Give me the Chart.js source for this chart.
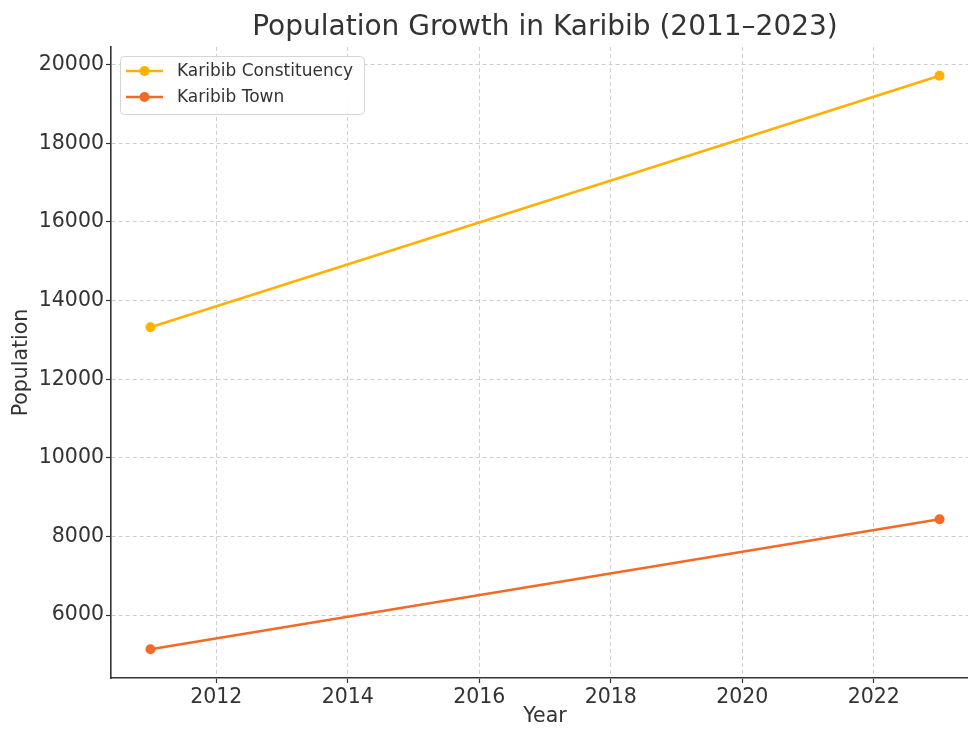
<!DOCTYPE html>
<html>
<head>
<meta charset="utf-8">
<script src="https://cdn.jsdelivr.net/npm/chart.js@4.4.1/dist/chart.umd.min.js"></script>
<style>
html, body { margin: 0; padding: 0; background: #fff; overflow: hidden; }
#wrap { width: 968px; height: 729px; overflow: hidden; }
canvas { display: block; }
</style>
</head>
<body>
<div id="wrap"><canvas id="chartPop" width="984" height="729"></canvas></div>
<script>
const years = [2011, 2023];
const constituency = [13320, 19720];
const town = [5130, 8440];
const xTicks = [2012, 2014, 2016, 2018, 2020, 2022];
const yTicks = [6000, 8000, 10000, 12000, 14000, 16000, 18000, 20000];
const seriesNames = ['Karibib Constituency', 'Karibib Town'];
const seriesColors = ['#FFB000', '#F26A25'];
const chartTitle = 'Population Growth in Karibib (2011\u20132023)';

const FONT = "'DejaVu Sans', sans-serif";
const TEXT = '#333';

// title centred over the axes box (matplotlib style)
const titlePlugin = {
    id: 'mplTitle',
    afterDraw(chart) {
        const c = chart.ctx;
        const a = chart.chartArea;
        c.save();
        c.font = '28px ' + FONT;
        c.fillStyle = TEXT;
        c.textAlign = 'center';
        c.textBaseline = 'middle';
        c.fillText(chartTitle, (a.left + a.right) / 2, 28);
        c.restore();
    }
};

// boxed legend in upper left
const legendBox = {
    id: 'legendBox',
    afterDraw(chart) {
        const c = chart.ctx;
        const left = 120, top = 56, w = 244, h = 58;
        c.save();
        c.fillStyle = 'rgba(255,255,255,0.85)';
        c.strokeStyle = '#d5d5d5';
        c.lineWidth = 1;
        c.beginPath();
        c.roundRect(left + 0.5, top + 0.5, w, h, 4);
        c.fill();
        c.stroke();
        chart.data.datasets.forEach((ds, i) => {
            const y = 71 + i * 26;
            c.strokeStyle = ds.borderColor;
            c.lineWidth = 2.5;
            c.beginPath();
            c.moveTo(126, y);
            c.lineTo(163, y);
            c.stroke();
            c.fillStyle = ds.borderColor;
            c.beginPath();
            c.arc(144.5, y, 5, 0, Math.PI * 2);
            c.fill();
            c.fillStyle = TEXT;
            c.font = '17px ' + FONT;
            c.textBaseline = 'middle';
            c.fillText(ds.label, 177, y + 1);
        });
        c.restore();
    }
};

const ctx = document.getElementById('chartPop');

new Chart(ctx, {
    type: 'line',
    data: {
        datasets: [{
            label: seriesNames[0],
            data: years.map((yr, i) => ({ x: yr, y: constituency[i] })),
            borderColor: seriesColors[0],
            backgroundColor: seriesColors[0],
            borderWidth: 2.5,
            pointRadius: 5,
            pointBorderWidth: 0
        }, {
            label: seriesNames[1],
            data: years.map((yr, i) => ({ x: yr, y: town[i] })),
            borderColor: seriesColors[1],
            backgroundColor: seriesColors[1],
            borderWidth: 2.5,
            pointRadius: 5,
            pointBorderWidth: 0
        }]
    },
    options: {
        responsive: false,
        animation: false,
        events: [],
        layout: { padding: { top: 47, right: 0, left: 0, bottom: 0 } },
        plugins: {
            legend: { display: false },
            tooltip: { enabled: false }
        },
        scales: {
            x: {
                type: 'linear',
                min: 2010.4,
                max: 2023.6,
                afterBuildTicks: s => { s.ticks = xTicks.map(v => ({ value: v })); },
                afterFit: s => { s.height = 51; },
                ticks: {
                    callback: v => String(v),
                    color: TEXT,
                    font: { family: FONT, size: 20.5 },
                    padding: 2,
                    maxRotation: 0
                },
                grid: {
                    color: '#cfcfcf',
                    lineWidth: 1,
                    tickLength: 5,
                    tickColor: TEXT,
                    tickWidth: 1.2,
                    tickBorderDash: []
                },
                border: { display: true, color: TEXT, width: 1.6, dash: [4, 3] },
                title: {
                    display: true,
                    text: 'Year',
                    color: TEXT,
                    font: { family: FONT, size: 20.5 },
                    padding: { top: 0, bottom: 0 }
                }
            },
            y: {
                min: 4400,
                max: 20450,
                afterBuildTicks: s => { s.ticks = yTicks.map(v => ({ value: v })); },
                afterFit: s => { s.width = 111; },
                ticks: {
                    callback: v => String(v),
                    color: TEXT,
                    font: { family: FONT, size: 20.5 },
                    padding: 2
                },
                grid: {
                    color: '#cfcfcf',
                    lineWidth: 1,
                    tickLength: 5,
                    tickColor: TEXT,
                    tickWidth: 1.2,
                    tickBorderDash: []
                },
                border: { display: true, color: TEXT, width: 1.6, dash: [4, 3] },
                title: {
                    display: true,
                    text: 'Population',
                    color: TEXT,
                    font: { family: FONT, size: 20.5 },
                    padding: { top: 9, bottom: 0 }
                }
            }
        }
    },
    plugins: [titlePlugin, legendBox]
});
</script>
</body>
</html>
